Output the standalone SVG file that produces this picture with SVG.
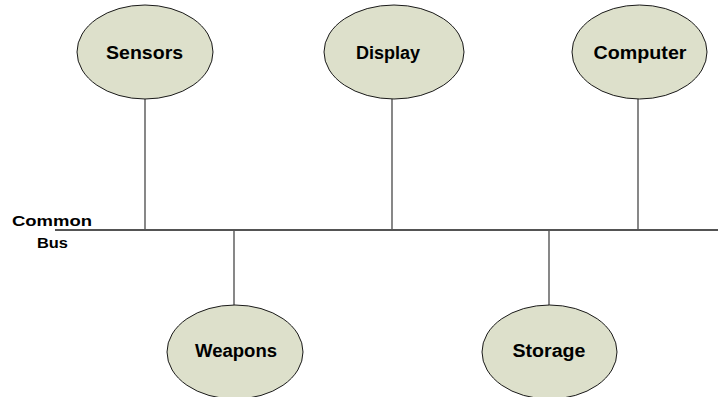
<svg xmlns="http://www.w3.org/2000/svg" width="718" height="397" viewBox="0 0 718 397">
  <style>
    .node ellipse { fill: #dde0cb; stroke: #1a1a1a; stroke-width: 1; }
    .label { font-family: "Liberation Sans", Arial, sans-serif; font-weight: bold; font-size: 18px; fill: #000; text-anchor: middle; }
    .bus { stroke: #1a1a1a; stroke-width: 1.4; fill: none; }
    .tap { stroke: #555; stroke-width: 1.4; fill: none; }
    .buslabel { font-family: "Liberation Sans", Arial, sans-serif; font-weight: bold; font-size: 15.5px; fill: #000; text-anchor: middle; }
  </style>
  <rect width="718" height="397" fill="#ffffff"/>

  <!-- bus and drop lines -->
  <g id="connectors">
    <line class="bus" x1="55" y1="230" x2="718" y2="230"/>
    <line class="tap" x1="145" y1="99" x2="145" y2="230"/>
    <line class="tap" x1="392" y1="99" x2="392" y2="230"/>
    <line class="tap" x1="638" y1="99" x2="638" y2="230"/>
    <line class="tap" x1="234" y1="230" x2="234" y2="305"/>
    <line class="tap" x1="549" y1="230" x2="549" y2="305"/>
  </g>

  <g id="bus-label">
    <text class="buslabel" x="52" y="225.5" textLength="80" lengthAdjust="spacingAndGlyphs">Common</text>
    <text class="buslabel" x="52.5" y="247.5" textLength="31" lengthAdjust="spacingAndGlyphs">Bus</text>
  </g>

  <g id="sensors" class="node">
    <ellipse cx="145" cy="52" rx="68" ry="47"/>
    <text class="label" x="144.6" y="59" textLength="77" lengthAdjust="spacingAndGlyphs">Sensors</text>
  </g>

  <g id="display" class="node">
    <ellipse cx="394" cy="52" rx="70" ry="47"/>
    <text class="label" x="388" y="59" textLength="64" lengthAdjust="spacingAndGlyphs">Display</text>
  </g>

  <g id="computer" class="node">
    <ellipse cx="639.5" cy="52" rx="67.5" ry="47"/>
    <text class="label" x="640" y="59" textLength="93" lengthAdjust="spacingAndGlyphs">Computer</text>
  </g>

  <g id="weapons" class="node">
    <ellipse cx="235" cy="352" rx="68" ry="47"/>
    <text class="label" x="236" y="356.5" textLength="82" lengthAdjust="spacingAndGlyphs">Weapons</text>
  </g>

  <g id="storage" class="node">
    <ellipse cx="549.5" cy="352" rx="67.5" ry="47"/>
    <text class="label" x="549" y="356.5" textLength="73" lengthAdjust="spacingAndGlyphs">Storage</text>
  </g>
</svg>
